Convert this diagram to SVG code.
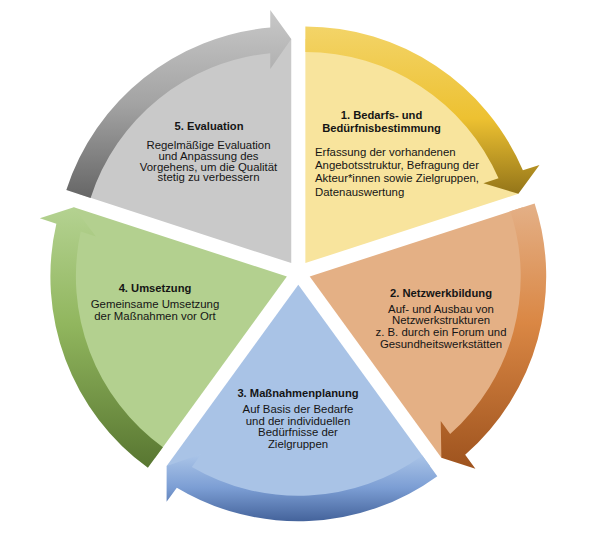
<svg xmlns="http://www.w3.org/2000/svg" width="600" height="547" viewBox="0 0 600 547">
<defs>
<style>
.t{font-family:"Liberation Sans",Arial,sans-serif;font-size:11.2px;font-weight:bold;fill:#151515;text-anchor:middle}
.b{font-family:"Liberation Sans",Arial,sans-serif;font-size:11.4px;fill:#151515;text-anchor:middle}
.bl{text-anchor:start}
</style>
<linearGradient id="gGray" x1="0" y1="0" x2="0" y2="1">
<stop offset="0" stop-color="#C8C8C8"/><stop offset="0.5" stop-color="#A3A3A3"/><stop offset="1" stop-color="#666666"/>
</linearGradient>
<linearGradient id="gYellow" x1="0" y1="0" x2="0" y2="1">
<stop offset="0" stop-color="#F3D468"/><stop offset="0.55" stop-color="#EDC131"/><stop offset="1" stop-color="#947519"/>
</linearGradient>
<linearGradient id="gOrange" x1="0" y1="0" x2="0" y2="1">
<stop offset="0" stop-color="#E4B087"/><stop offset="0.45" stop-color="#DA8744"/><stop offset="1" stop-color="#9E531E"/>
</linearGradient>
<linearGradient id="gBlue" x1="0" y1="0" x2="0" y2="1">
<stop offset="0" stop-color="#ABC5E8"/><stop offset="0.5" stop-color="#7C9ED4"/><stop offset="1" stop-color="#44639B"/>
</linearGradient>
<linearGradient id="gGreen" x1="0" y1="0" x2="0" y2="1">
<stop offset="0" stop-color="#B4D291"/><stop offset="0.45" stop-color="#91B65E"/><stop offset="1" stop-color="#587631"/>
</linearGradient>
</defs>
<rect width="600" height="547" fill="#FFFFFF"/>

<g id="node1">
<path d="M305.35,263.09 L305.35,39.09 A224,224 0 0 1 518.39,193.87 Z" fill="#F8E49D"/>
<text class="t" x="381.5" y="119">1. Bedarfs- und</text>
<text class="t" x="381.5" y="131.7">Bedürfnisbestimmung</text>
<text class="b bl" x="315" y="155.7">Erfassung der vorhandenen</text>
<text class="b bl" x="315" y="169">Angebotsstruktur, Befragung der</text>
<text class="b bl" x="315" y="182.3">Akteur*innen sowie Zielgruppen,</text>
<text class="b bl" x="315" y="195.7">Datenauswertung</text>
</g>

<g id="node2">
<path d="M309.71,276.51 L522.75,207.29 A224,224 0 0 1 441.37,457.73 Z" fill="#E4B085"/>
<text class="t" x="441" y="296.7">2. Netzwerkbildung</text>
<text class="b" x="441" y="312.7">Auf- und Ausbau von</text>
<text class="b" x="441" y="324.3">Netzwerkstrukturen</text>
<text class="b" x="441" y="336">z. B. durch ein Forum und</text>
<text class="b" x="441" y="347.7">Gesundheitswerkstätten</text>
</g>

<g id="node3">
<path d="M298.3,284.8 L429.96,466.02 A224,224 0 0 1 166.64,466.02 Z" fill="#A9C3E6"/>
<text class="t" x="298" y="397">3. Maßnahmenplanung</text>
<text class="b" x="298" y="413.3">Auf Basis der Bedarfe</text>
<text class="b" x="298" y="424.8">und der individuellen</text>
<text class="b" x="298" y="436.3">Bedürfnisse der</text>
<text class="b" x="298" y="447.8">Zielgruppen</text>
</g>

<g id="node4">
<path d="M286.89,276.51 L155.23,457.73 A224,224 0 0 1 73.85,207.29 Z" fill="#B3D08F"/>
<text class="t" x="155" y="291.7">4. Umsetzung</text>
<text class="b" x="155" y="308.3">Gemeinsame Umsetzung</text>
<text class="b" x="155" y="320">der Maßnahmen vor Ort</text>
</g>

<g id="node5">
<path d="M291.25,263.09 L78.21,193.87 A224,224 0 0 1 291.25,39.09 Z" fill="#C9C9C9"/>
<text class="t" x="209" y="130">5. Evaluation</text>
<text class="b" x="208.5" y="149.3">Regelmäßige Evaluation</text>
<text class="b" x="208.5" y="160">und Anpassung des</text>
<text class="b" x="208.5" y="170.7">Vorgehens, um die Qualität</text>
<text class="b" x="208.5" y="181.3">stetig zu verbessern</text>
</g>

<g id="connectors">
<path id="arrow1" fill="url(#gYellow)" d="M305.35,26.59 A236.5,236.5 0 0 1 522.90,170.32 L539.48,164.94 L518.39,193.87 L483.37,183.17 L498.53,178.24 A211,211 0 0 0 305.35,52.09 Z"/>
<path id="arrow2" fill="url(#gOrange)" d="M534.64,203.43 A236.5,236.5 0 0 1 465.17,454.75 L475.41,468.85 L441.37,457.73 L440.73,421.12 L450.11,434.02 A211,211 0 0 0 510.38,211.31 Z"/>
<path id="arrow3" fill="url(#gBlue)" d="M437.31,476.13 A236.5,236.5 0 0 1 176.82,487.72 L166.58,501.82 L166.64,466.02 L201.26,454.09 L191.88,466.99 A211,211 0 0 0 422.32,455.50 Z"/>
<path id="arrow4" fill="url(#gGreen)" d="M147.88,467.84 A236.5,236.5 0 0 1 56.36,223.68 L39.78,218.30 L73.85,207.29 L95.89,236.53 L80.73,231.60 A211,211 0 0 0 162.87,447.21 Z"/>
<path id="arrow5" fill="url(#gGray)" d="M66.32,190.01 A236.5,236.5 0 0 1 270.25,27.52 L270.25,10.09 L291.25,39.09 L270.25,69.09 L270.25,53.14 A211,211 0 0 0 90.58,197.89 Z"/>
</g>
</svg>
